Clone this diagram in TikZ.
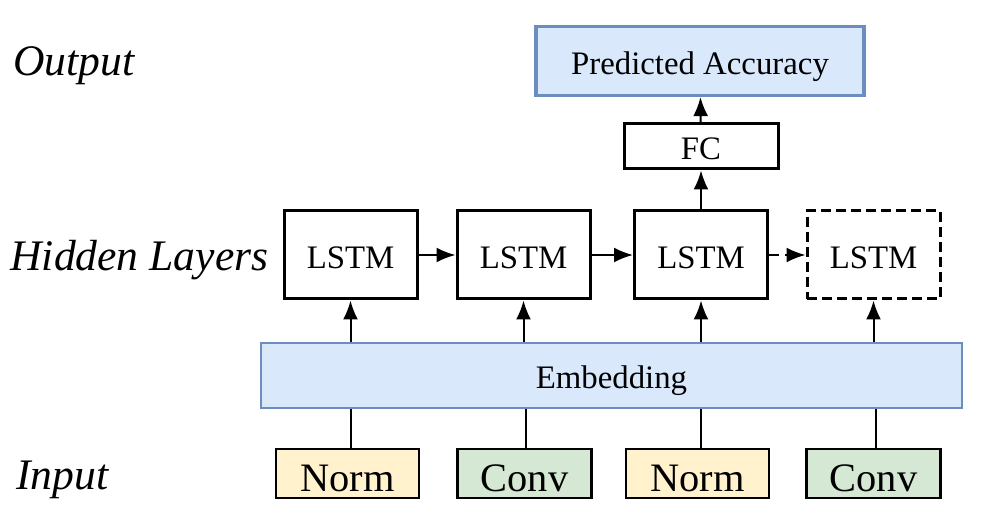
\documentclass[tikz,border=0pt]{standalone}
\usepackage{fontspec}
\setmainfont{Liberation Serif}
\usepackage{tikz}
\usetikzlibrary{positioning,arrows.meta,calc}
\definecolor{embfill}{HTML}{DAE8FC}
\definecolor{embdraw}{HTML}{6C8EBF}
\definecolor{normfill}{HTML}{FFF2CC}
\definecolor{convfill}{HTML}{D5E8D4}

\begin{document}
\begin{tikzpicture}[
  x=0.5pt, y=-0.5pt,
  font=\fontsize{16.4}{19}\selectfont,
  box/.style={draw=black, line width=1.5pt, align=center, inner sep=2pt, text height=13.5pt, text depth=0pt},
  cell/.style={box, minimum width=66.5pt, minimum height=44pt},
  ghost/.style={cell, dash pattern=on 5pt off 2.5pt},
  blue/.style={draw=embdraw, fill=embfill, align=center, inner sep=2pt, text height=13.5pt, text depth=0pt},
  op/.style={box, line width=1.3pt, minimum height=24.5pt, font=\fontsize{20.2}{23}\selectfont, text height=17.5pt},
  arr/.style={-{Latex[length=9.5pt,width=7.5pt]}, line width=1pt},
  lbl/.style={font=\fontsize{21.8}{25}\selectfont\itshape, anchor=base west, inner sep=0pt}
]
\useasboundingbox (0,0) rectangle (983,522);

% row labels
\node[lbl] (lout) at (13,76) {Output};
\node[lbl] (lhid) at (10,271) {Hidden Layers};
\node[lbl] (lin) at (16,489) {Input};

% output side
\node[blue, line width=1.6pt, minimum width=164pt, minimum height=34.5pt] (acc) at (700,61) {Predicted Accuracy};
\node[box, minimum width=77pt, minimum height=22.5pt] (fc) at (701,146.5) {FC};

% recurrent cells
\node[cell] (l1) at (350.5,255) {LSTM};
\node[cell] (l2) at (523.5,255) {LSTM};
\node[cell] (l3) at (701,255) {LSTM};
\node[ghost] (l4) at (873.5,255) {LSTM};

\node[blue, line width=1pt, minimum width=350.5pt, minimum height=32.5pt] (emb) at (611.5,375.5) {Embedding};

% input ops
\node[op, fill=normfill, minimum width=71.5pt] (i1) at (347.5,473.5) {Norm};
\node[op, fill=convfill, minimum width=67pt] (i2) at (524.5,473.5) {Conv};
\node[op, fill=normfill, minimum width=71.5pt] (i3) at (697.5,473.5) {Norm};
\node[op, fill=convfill, minimum width=67pt] (i4) at (873.5,473.5) {Conv};

% input stubs into the embedding, embedding up into each cell
\foreach \i/\x in {i1/351,i2/526,i3/701,i4/876} \draw[line width=1pt] (\x,0 |- \i.north) -- (\x,0 |- emb.south);
\foreach \l in {l1,l2,l3,l4} \draw[arr] (\l.south |- emb.north) -- (\l.south);

\draw[arr] (l1) -- (l2);
\draw[arr] (l2) -- (l3);
\draw[arr, dash pattern=on 5pt off 3pt] (l3) -- (l4);
\draw[arr] (l3) -- (fc);
\draw[arr] (fc) -- (acc);
\end{tikzpicture}
\end{document}
